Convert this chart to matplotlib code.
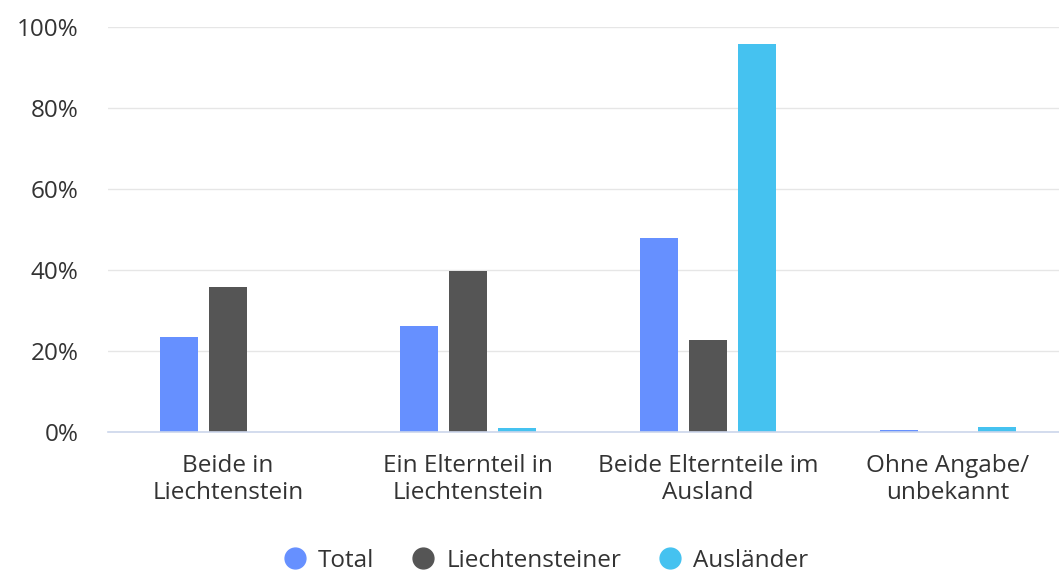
import matplotlib
matplotlib.use("Agg")
import matplotlib.pyplot as plt
import numpy as np
from matplotlib.lines import Line2D

categories = ["Beide in\nLiechtenstein", "Ein Elternteil in\nLiechtenstein",
              "Beide Elternteile im\nAusland", "Ohne Angabe/\nunbekannt"]
series_names = ["Total", "Liechtensteiner", "Ausländer"]
total = [23.5, 26.2, 47.9, 0.5]
liechtensteiner = [35.8, 39.8, 22.6, 0.0]
auslaender = [0.0, 1.0, 95.8, 1.3]
yticks = [0, 20, 40, 60, 80, 100]
ytick_labels = ["0%", "20%", "40%", "60%", "80%", "100%"]

colors = ["#6690ff", "#555555", "#45c2f0"]

plt.rcParams['font.family'] = ['Open Sans', 'DejaVu Sans']

fig = plt.figure(figsize=(10.59, 5.74), dpi=100)
ax = fig.add_axes([108/1059, 1-432/574, (1068-108)/1059, (432-27)/574])

x = np.arange(len(categories))
w = 0.158
step = 0.204
for i, (vals, c, n) in enumerate(zip([total, liechtensteiner, auslaender], colors, series_names)):
    ax.bar(x + (i-1)*step, vals, width=w, color=c, label=n, zorder=3)

fs = 17.5
ax.set_xlim(-0.5, len(categories)-0.5)
ax.set_ylim(0, 100)
ax.set_yticks(yticks)
ax.set_yticklabels(ytick_labels, fontsize=fs, color="#333333")
ax.set_xticks(x)
ax.set_xticklabels(categories, fontsize=fs, color="#333333", linespacing=1.17)
ax.tick_params(axis='x', length=0, pad=16)
ax.tick_params(axis='y', length=0, pad=21)
ax.grid(axis='y', color="#e6e6e6", linewidth=1, zorder=0)
for s in ["top", "right", "left"]:
    ax.spines[s].set_visible(False)
ax.spines["bottom"].set_color("#ccd6eb")
ax.spines["bottom"].set_linewidth(1.2)
ax.spines["bottom"].set_zorder(4)

handles = [Line2D([], [], marker='o', linestyle='', markersize=15, color=c) for c in colors]
fig.legend(handles, series_names, loc='center', bbox_to_anchor=(0.515, 1-561/574),
           ncol=3, frameon=False, fontsize=fs, handlelength=1.0, handletextpad=0.45,
           columnspacing=1.5, labelcolor="#333333", borderpad=0.1)

fig.savefig("out.png", dpi=100)
